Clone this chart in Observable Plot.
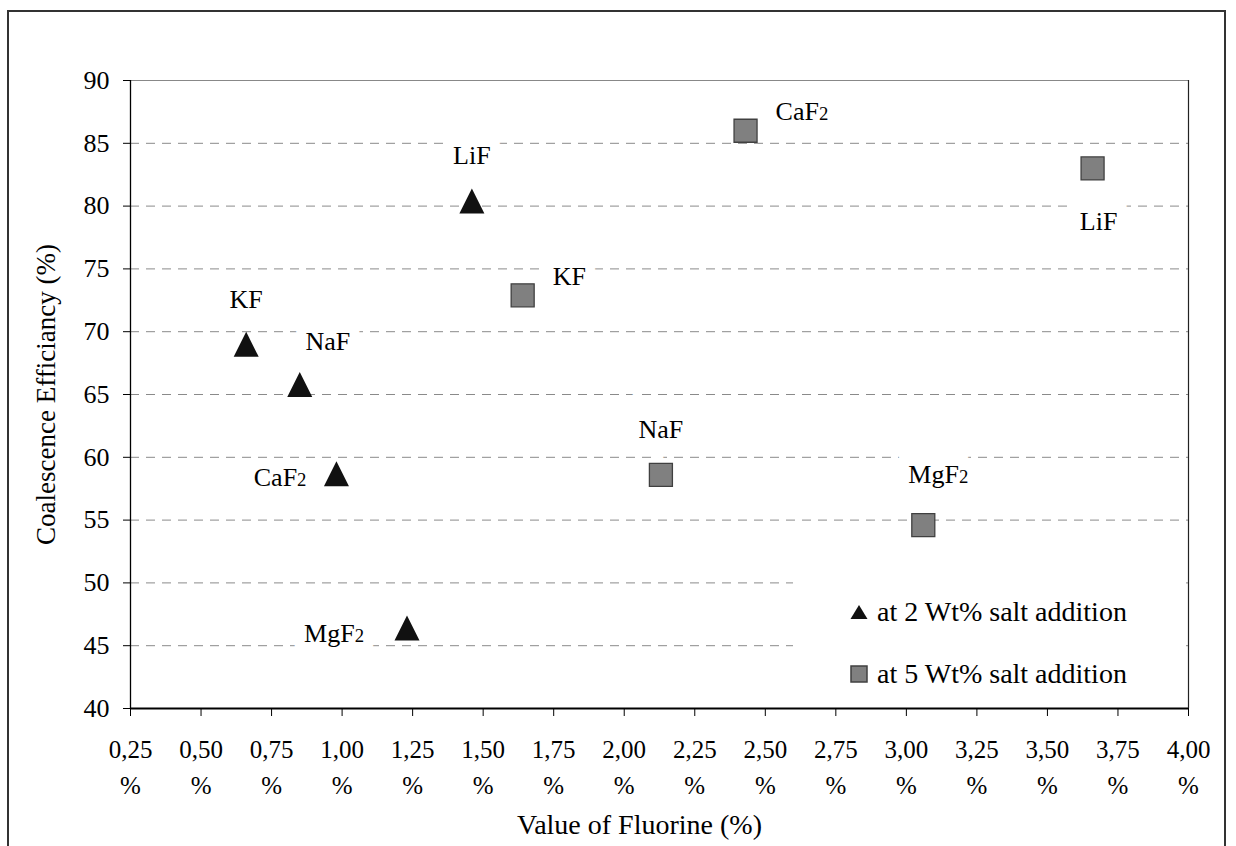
<!DOCTYPE html>
<html>
<head>
<meta charset="utf-8">
<script src="https://cdn.jsdelivr.net/npm/d3@7"></script>
<script src="https://cdn.jsdelivr.net/npm/@observablehq/plot@0.6"></script>
<style>
  html, body { margin: 0; padding: 0; background: #fff; overflow: hidden; }
  #wrap { position: relative; width: 1236px; height: 846px; }
  #frame { position: absolute; left: 7px; top: 10px; width: 1219px; height: 900px; border: 2px solid #333; box-sizing: border-box; pointer-events: none; }
  #chart { position: absolute; left: 0; top: 0; }
  #legend { position: absolute; left: 793px; top: 565px; width: 393px; height: 141px; background: #fff;
            font-family: "Liberation Serif", "Times New Roman", serif; font-size: 28px; color: #000; }
  .item { position: absolute; left: 57px; display: flex; align-items: center; white-space: nowrap; }
  .item svg { margin-right: 9px; }
</style>
</head>
<body>
<div id="wrap">
  <div id="chart"></div>
  <div id="legend">
    <div class="item" style="top:31px"><svg width="18" height="16"><path d="M9,1 L17.5,15 L0.5,15 Z" fill="#111"/></svg><span>at 2 Wt% salt addition</span></div>
    <div class="item" style="top:93px"><svg width="18" height="18"><rect x="1" y="1" width="16" height="16" fill="#808080" stroke="#404040" stroke-width="1.5"/></svg><span>at 5 Wt% salt addition</span></div>
  </div>
  <div id="frame"></div>
</div>
<script>
// ---- data ----
const salts2 = ["KF", "NaF", "LiF", "CaF2", "MgF2"];
const fluorine2 = [0.66, 0.85, 1.46, 0.98, 1.23];
const efficiency2 = [69.0, 65.8, 80.4, 58.7, 46.4];
const placement2 = ["above", "aboveRight", "above", "left", "farLeft"];

const salts5 = ["KF", "CaF2", "LiF", "NaF", "MgF2"];
const fluorine5 = [1.64, 2.43, 3.66, 2.13, 3.06];
const efficiency5 = [72.9, 86.0, 83.0, 58.6, 54.6];
const placement5 = ["right", "right", "below", "above", "aboveShift"];

const xTicks = [0.25, 0.5, 0.75, 1.0, 1.25, 1.5, 1.75, 2.0, 2.25, 2.5, 2.75, 3.0, 3.25, 3.5, 3.75, 4.0];
const xTickLabels = ["0,25", "0,50", "0,75", "1,00", "1,25", "1,50", "1,75", "2,00", "2,25", "2,50", "2,75", "3,00", "3,25", "3,50", "3,75", "4,00"];
const yTicks = [40, 45, 50, 55, 60, 65, 70, 75, 80, 85, 90];
const gridValues = [45, 50, 55, 60, 65, 70, 75, 80, 85];

const xTitle = "Value of Fluorine (%)";
const yTitle = "Coalescence Efficiancy (%)";

// ---- build tables ----
const rows2 = salts2.map((s, i) => ({salt: s, f: fluorine2[i], eff: efficiency2[i], place: placement2[i]}));
const rows5 = salts5.map((s, i) => ({salt: s, f: fluorine5[i], eff: efficiency5[i], place: placement5[i]}));
const allRows = rows2.concat(rows5);

// custom symbols: bounding-box-centred triangle and square, half-size = r
const tri = { draw(ctx, size) { const h = Math.sqrt(size / Math.PI); ctx.moveTo(0, -h); ctx.lineTo(h, h); ctx.lineTo(-h, h); ctx.closePath(); } };
const sq = { draw(ctx, size) { const h = Math.sqrt(size / Math.PI); ctx.rect(-h, -h, 2 * h, 2 * h); } };

const placeOpts = {
  above:      {dx: 0,   dy: -45, textAnchor: "middle"},
  aboveShift: {dx: 15,  dy: -50, textAnchor: "middle"},
  aboveRight: {dx: 28,  dy: -43, textAnchor: "middle"},
  left:       {dx: -30, dy: 4,   textAnchor: "end"},
  farLeft:    {dx: -43, dy: 6,   textAnchor: "end"},
  right:      {dx: 30,  dy: -19, textAnchor: "start"},
  below:      {dx: 6,   dy: 53,  textAnchor: "middle"}
};
const haloMarks = Object.keys(placeOpts).map(p => Plot.text(allRows, {
  filter: d => d.place === p, x: "f", y: "eff", text: "salt", fontSize: 26,
  ...placeOpts[p], fill: "#fff", stroke: "#fff", strokeWidth: 20, strokeLinejoin: "miter",
  className: "saltlabel"
}));
const labelMarks = Object.keys(placeOpts).map(p => Plot.text(allRows, {
  filter: d => d.place === p, x: "f", y: "eff", text: "salt", fontSize: 26,
  ...placeOpts[p], fill: "#000",
  className: "saltlabel"
}));

const chart = Plot.plot({
  width: 1236,
  height: 846,
  marginLeft: 130,
  marginRight: 48,
  marginTop: 80,
  marginBottom: 138,
  style: {fontFamily: "'Liberation Serif', 'Times New Roman', serif", fontSize: "25px", color: "#000", background: "#fff"},
  x: {domain: [0.25, 4.0]},
  y: {domain: [40, 90]},
  marks: [
    Plot.ruleY(gridValues, {stroke: "#8a8a8a", strokeWidth: 1, strokeDasharray: "9,7"}),
    Plot.ruleY([90], {stroke: "#888", strokeWidth: 1.2}),
    Plot.ruleX([4.0], {stroke: "#222", strokeWidth: 1.2}),
    ...haloMarks,
    ...labelMarks,
    Plot.axisY({ticks: yTicks, tickSize: 7, tickPadding: 14, fontSize: 26, tickFormat: d => String(d), label: null}),
    Plot.axisX({ticks: xTicks, tickSize: 8, tickPadding: 16, lineHeight: 1.45,
                tickFormat: (d) => xTickLabels[xTicks.indexOf(d)] + "\n%", label: null}),
    Plot.ruleX([0.25], {stroke: "#000", strokeWidth: 1.3}),
    Plot.ruleY([40], {stroke: "#000", strokeWidth: 2.2}),
    Plot.text([xTitle], {frameAnchor: "bottom", dx: -20, dy: 125, fontSize: 28}),
    Plot.text([yTitle], {frameAnchor: "left", textAnchor: "middle", dx: -84, rotate: -90, fontSize: 27}),
    Plot.dot(rows2, {x: "f", y: "eff", symbol: tri, r: 12.5, fill: "#111", stroke: "none"}),
    Plot.dot(rows5, {x: "f", y: "eff", symbol: sq, r: 11.5, fill: "#808080", stroke: "#404040", strokeWidth: 1.3})
  ]
});

// smaller "2" in formulas (CaF2, MgF2)
chart.querySelectorAll(".saltlabel text").forEach(t => {
  const s = t.textContent;
  if (/F2$/.test(s)) {
    t.textContent = s.slice(0, -1);
    const ts = document.createElementNS("http://www.w3.org/2000/svg", "tspan");
    ts.setAttribute("font-size", "0.72em");
    ts.textContent = "2";
    t.appendChild(ts);
  }
});

document.getElementById("chart").appendChild(chart);
</script>
</body>
</html>
